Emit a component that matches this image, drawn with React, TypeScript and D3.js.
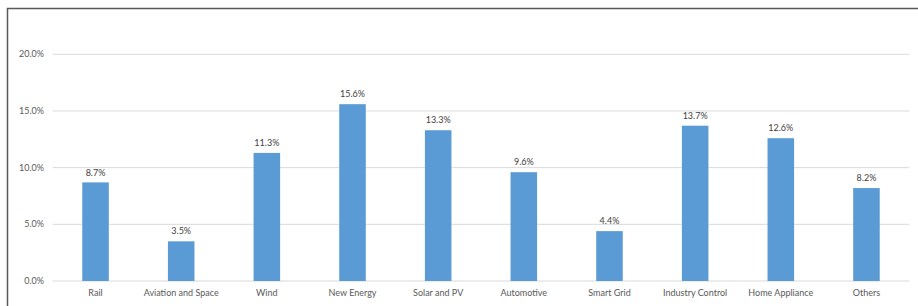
import React from 'react';
import * as d3 from 'd3';

const categories = ['Rail', 'Aviation and Space', 'Wind', 'New Energy', 'Solar and PV', 'Automotive', 'Smart Grid', 'Industry Control', 'Home Appliance', 'Others'];
const values = [8.7, 3.5, 11.3, 15.6, 13.3, 9.6, 4.4, 13.7, 12.6, 8.2];
const yTicks = [0, 5, 10, 15, 20];

const W = 918, H = 306;
const left = 52.7, right = 909.3, top = 54.3, bottom = 281;
const font = 'Lato, "Open Sans", sans-serif';

export default function App() {
  const x = d3.scaleBand().domain(categories).range([left, right]).paddingInner(0.69).paddingOuter(0.345);
  const y = d3.scaleLinear().domain([0, 20]).range([bottom, top]);

  return (
    <svg width={W} height={H} style={{ position: 'absolute', left: 0, top: 0, background: '#fff' }}>
      <rect x={7.5} y={8.5} width={W + 10} height={H + 10} fill="#fff" stroke="#5a5a5a" strokeWidth={1.5} />
      {yTicks.map(t => (
        <g key={t}>
          <line x1={left} x2={right} y1={y(t)} y2={y(t)} stroke="#d9d9d9" strokeWidth={1} />
          <text x={44} y={y(t)} dy="0.35em" textAnchor="end" fontSize={9} fill="#595959" fontFamily={font}>
            {d3.format('.1f')(t)}%
          </text>
        </g>
      ))}
      {categories.map((c, i) => (
        <g key={c}>
          <rect x={x(c)} y={y(values[i])} width={x.bandwidth()} height={y(0) - y(values[i])} fill="#5b9bd5" />
          <text x={x(c)! + x.bandwidth() / 2} y={y(values[i]) - 10} dy="0.35em" textAnchor="middle" fontSize={9} fill="#404040" fontFamily={font}>
            {values[i].toFixed(1)}%
          </text>
          <text x={x(c)! + x.bandwidth() / 2} y={293} dy="0.35em" textAnchor="middle" fontSize={9} fill="#595959" fontFamily={font}>
            {c}
          </text>
        </g>
      ))}
    </svg>
  );
}
